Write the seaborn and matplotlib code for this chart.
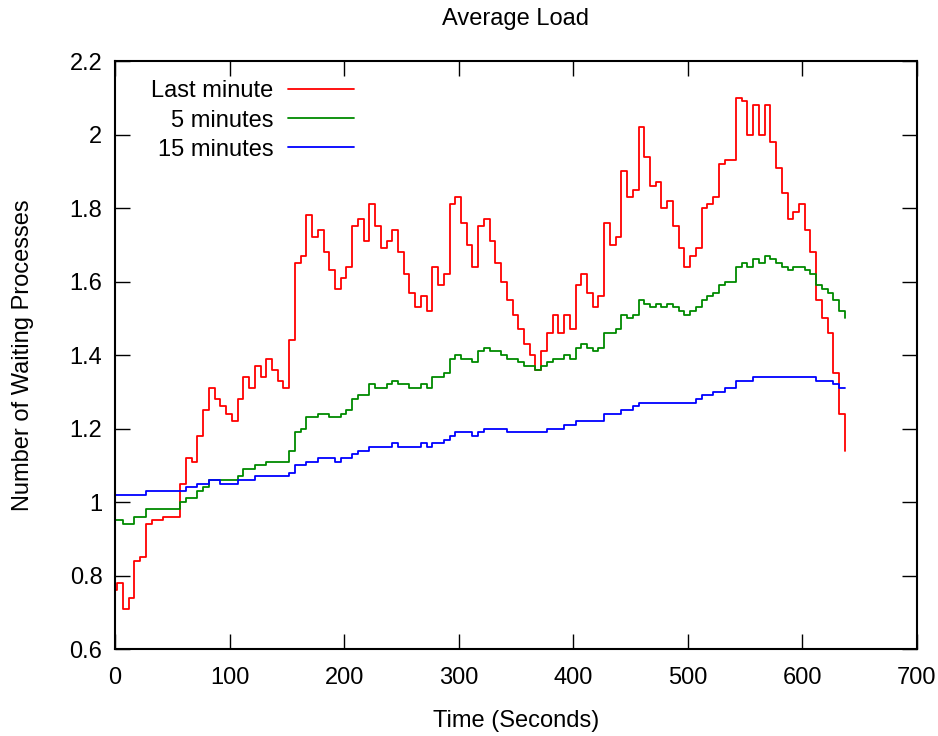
import numpy as np
import pandas as pd
import matplotlib
matplotlib.use('Agg')
import matplotlib.pyplot as plt
import seaborn as sns
from matplotlib.ticker import FormatStrFormatter

# sample times (seconds), one load reading per ~5 s
times = [0, 2, 7, 12, 17, 22, 27, 32, 37, 42,
         47, 52, 57, 62, 67, 72, 77, 82, 87, 92,
         97, 102, 107, 112, 117, 122, 127, 132, 137, 142,
         147, 152, 157, 162, 167, 172, 177, 182, 187, 192,
         197, 202, 207, 212, 217, 222, 227, 232, 237, 242,
         247, 252, 257, 262, 267, 272, 277, 282, 287, 292,
         297, 302, 307, 312, 317, 322, 327, 332, 337, 342,
         347, 352, 357, 362, 367, 372, 377, 382, 387, 392,
         397, 402, 407, 412, 417, 422, 427, 432, 437, 442,
         447, 452, 457, 462, 467, 472, 477, 482, 487, 492,
         497, 502, 507, 512, 517, 522, 527, 532, 537, 542,
         547, 552, 557, 562, 567, 572, 577, 582, 587, 592,
         597, 602, 607, 612, 617, 622, 627, 632, 637]

load_1min = [0.76, 0.78, 0.71, 0.74, 0.84, 0.85, 0.94, 0.95, 0.95, 0.96,
             0.96, 0.96, 1.05, 1.12, 1.11, 1.18, 1.25, 1.31, 1.28, 1.26,
             1.24, 1.22, 1.28, 1.34, 1.31, 1.37, 1.34, 1.39, 1.36, 1.33,
             1.31, 1.44, 1.65, 1.67, 1.78, 1.72, 1.74, 1.68, 1.63, 1.58,
             1.61, 1.64, 1.75, 1.77, 1.71, 1.81, 1.75, 1.69, 1.71, 1.74,
             1.68, 1.62, 1.57, 1.53, 1.56, 1.52, 1.64, 1.59, 1.62, 1.81,
             1.83, 1.76, 1.70, 1.64, 1.75, 1.77, 1.71, 1.65, 1.60, 1.55,
             1.51, 1.47, 1.43, 1.40, 1.36, 1.41, 1.46, 1.51, 1.46, 1.51,
             1.47, 1.59, 1.62, 1.57, 1.53, 1.56, 1.76, 1.70, 1.72, 1.90,
             1.83, 1.85, 2.02, 1.94, 1.86, 1.87, 1.80, 1.82, 1.75, 1.69,
             1.64, 1.67, 1.69, 1.80, 1.81, 1.83, 1.92, 1.93, 1.93, 2.10,
             2.09, 2.00, 2.08, 2.00, 2.08, 1.98, 1.91, 1.84, 1.77, 1.79,
             1.81, 1.74, 1.68, 1.55, 1.50, 1.46, 1.35, 1.24, 1.14]

load_5min = [0.95, 0.95, 0.94, 0.94, 0.96, 0.96, 0.98, 0.98, 0.98, 0.98,
             0.98, 0.98, 1.00, 1.01, 1.01, 1.03, 1.04, 1.06, 1.06, 1.06,
             1.06, 1.06, 1.07, 1.09, 1.09, 1.10, 1.10, 1.11, 1.11, 1.11,
             1.11, 1.14, 1.19, 1.20, 1.23, 1.23, 1.24, 1.24, 1.23, 1.23,
             1.24, 1.25, 1.28, 1.29, 1.29, 1.32, 1.31, 1.31, 1.32, 1.33,
             1.32, 1.32, 1.31, 1.31, 1.32, 1.31, 1.34, 1.34, 1.35, 1.39,
             1.40, 1.39, 1.39, 1.38, 1.41, 1.42, 1.41, 1.41, 1.40, 1.39,
             1.39, 1.38, 1.37, 1.37, 1.36, 1.37, 1.38, 1.39, 1.39, 1.40,
             1.39, 1.42, 1.43, 1.42, 1.41, 1.42, 1.46, 1.46, 1.47, 1.51,
             1.50, 1.51, 1.55, 1.54, 1.53, 1.54, 1.53, 1.54, 1.53, 1.52,
             1.51, 1.52, 1.53, 1.55, 1.56, 1.57, 1.59, 1.60, 1.60, 1.64,
             1.65, 1.64, 1.66, 1.65, 1.67, 1.66, 1.65, 1.64, 1.63, 1.64,
             1.64, 1.63, 1.62, 1.59, 1.58, 1.57, 1.55, 1.52, 1.50]

load_15min = [1.02, 1.02, 1.02, 1.02, 1.02, 1.02, 1.03, 1.03, 1.03, 1.03,
              1.03, 1.03, 1.03, 1.04, 1.04, 1.05, 1.05, 1.06, 1.06, 1.05,
              1.05, 1.05, 1.06, 1.06, 1.06, 1.07, 1.07, 1.07, 1.07, 1.07,
              1.07, 1.08, 1.10, 1.10, 1.11, 1.11, 1.12, 1.12, 1.12, 1.11,
              1.12, 1.12, 1.13, 1.14, 1.14, 1.15, 1.15, 1.15, 1.15, 1.16,
              1.15, 1.15, 1.15, 1.15, 1.16, 1.15, 1.16, 1.16, 1.17, 1.18,
              1.19, 1.19, 1.19, 1.18, 1.19, 1.20, 1.20, 1.20, 1.20, 1.19,
              1.19, 1.19, 1.19, 1.19, 1.19, 1.19, 1.20, 1.20, 1.20, 1.21,
              1.21, 1.22, 1.22, 1.22, 1.22, 1.22, 1.24, 1.24, 1.24, 1.25,
              1.25, 1.26, 1.27, 1.27, 1.27, 1.27, 1.27, 1.27, 1.27, 1.27,
              1.27, 1.27, 1.28, 1.29, 1.29, 1.30, 1.30, 1.31, 1.31, 1.33,
              1.33, 1.33, 1.34, 1.34, 1.34, 1.34, 1.34, 1.34, 1.34, 1.34,
              1.34, 1.34, 1.34, 1.33, 1.33, 1.33, 1.32, 1.31, 1.31]

series_names = ['Last minute', '5 minutes', '15 minutes']
colors = {'Last minute': '#ff0000', '5 minutes': '#008a00', '15 minutes': '#0000ff'}

df = pd.DataFrame({'t': times * 3,
                   'load': load_1min + load_5min + load_15min,
                   'series': np.repeat(series_names, len(times))})

sns.set_theme(style='ticks')
plt.rcParams['font.family'] = ['Liberation Sans', 'DejaVu Sans']
plt.rcParams['font.size'] = 17
plt.rcParams['text.color'] = 'black'
plt.rcParams['axes.labelcolor'] = 'black'
plt.rcParams['axes.titlecolor'] = 'black'

fig, ax = plt.subplots(figsize=(9.38, 7.36), dpi=100)
fig.subplots_adjust(left=0.1226, right=0.9776, top=0.9171, bottom=0.1182)

for name in series_names:
    sns.lineplot(data=df[df['series'] == name], x='t', y='load',
                 color=colors[name], label=name, drawstyle='steps-post',
                 estimator=None, sort=False, linewidth=1.3, ax=ax)

ax.set_xlim(0, 700)
ax.set_ylim(0.6, 2.2)
ax.set_xticks(np.arange(0, 701, 100))
ax.set_yticks(np.arange(0.6, 2.21, 0.2))
ax.yaxis.set_major_formatter(FormatStrFormatter('%g'))
ax.tick_params(direction='in', length=11, width=1, top=True, right=True,
               labelsize=17, pad=9, colors='black')
ax.tick_params(axis='x', pad=13)
for s in ax.spines.values():
    s.set_linewidth(1.5)
    s.set_color('black')

ax.set_title('Average Load', fontsize=17, pad=26, color='black')
ax.set_xlabel('Time (Seconds)', fontsize=17, labelpad=15, color='black')
ax.set_ylabel('Number of Waiting Processes', fontsize=17, labelpad=26, color='black')

leg = ax.legend(loc='upper right', bbox_to_anchor=(0.298, 0.967),
                markerfirst=False, frameon=False, fontsize=17,
                handlelength=2.8, handletextpad=0.6, labelspacing=0.3,
                borderpad=0, borderaxespad=0)
for t in leg.get_texts():
    t.set_color('black')
# gnuplot style: right-aligned key text
for col in leg._legend_handle_box.get_children():
    col.align = 'right'

fig.savefig('out.png', dpi=100)
